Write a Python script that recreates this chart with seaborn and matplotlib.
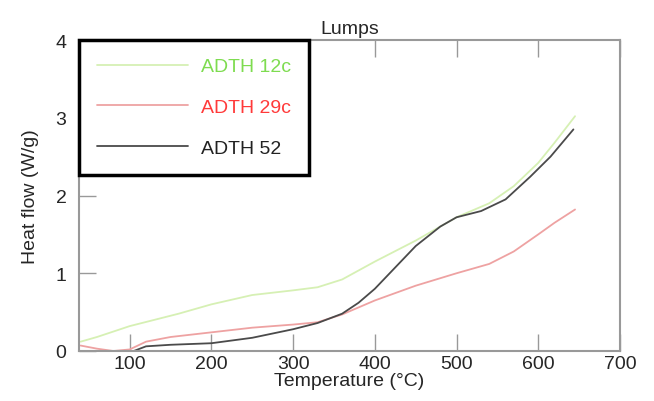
import numpy as np
import pandas as pd
import matplotlib
matplotlib.use("Agg")
import matplotlib.pyplot as plt
import seaborn as sns

series_names = ["ADTH 12c", "ADTH 29c", "ADTH 52"]

x_12c = [40, 60, 80, 100, 130, 160, 200, 250, 300, 330, 360, 400, 450, 500, 540, 570, 600, 620, 645]
y_12c = [0.12, 0.18, 0.25, 0.32, 0.40, 0.48, 0.60, 0.72, 0.78, 0.82, 0.92, 1.15, 1.42, 1.72, 1.90, 2.12, 2.42, 2.68, 3.02]

x_29c = [40, 60, 80, 100, 120, 150, 200, 250, 300, 330, 360, 400, 450, 500, 540, 570, 600, 620, 645]
y_29c = [0.07, 0.03, 0.0, 0.02, 0.12, 0.18, 0.24, 0.30, 0.34, 0.37, 0.47, 0.65, 0.84, 1.00, 1.12, 1.28, 1.50, 1.65, 1.82]

x_52 = [105, 120, 150, 200, 250, 300, 330, 360, 380, 400, 420, 450, 480, 500, 530, 560, 590, 615, 643]
y_52 = [0.0, 0.06, 0.08, 0.10, 0.17, 0.28, 0.36, 0.48, 0.62, 0.80, 1.02, 1.35, 1.60, 1.72, 1.80, 1.95, 2.24, 2.50, 2.85]

x_ticks = [100, 200, 300, 400, 500, 600, 700]
y_ticks = [0, 1, 2, 3, 4]

line_colors = ["#d6f0b4", "#eea2a2", "#4a4a4a"]
text_colors = ["#7edc50", "#ff3a3a", "#222222"]

df = pd.concat([
    pd.DataFrame({"T": x_12c, "H": y_12c, "s": series_names[0]}),
    pd.DataFrame({"T": x_29c, "H": y_29c, "s": series_names[1]}),
    pd.DataFrame({"T": x_52, "H": y_52, "s": series_names[2]}),
])

sns.set_style("white")
plt.rcParams["font.family"] = ["Liberation Sans", "DejaVu Sans"]

fig = plt.figure(figsize=(6.54, 4.02), dpi=100)
ax = fig.add_axes([79/654, 1-352/402, (620-79)/654, (352-41)/402])

sns.lineplot(data=df, x="T", y="H", hue="s", palette=dict(zip(series_names, line_colors)),
             ax=ax, linewidth=1.3, sort=False, legend=False, clip_on=False)

ax.set_xlim(38, 700)
ax.set_ylim(0, 4)
ax.set_xticks(x_ticks)
ax.set_yticks(y_ticks)
ax.set_xticklabels([str(t) for t in x_ticks], fontsize=14)
ax.set_yticklabels([str(t) for t in y_ticks], fontsize=14)
ax.tick_params(axis="x", direction="in", length=12, width=1, color="#999999",
               top=True, bottom=True, pad=3)
ax.tick_params(axis="y", direction="in", length=12, width=1, color="#999999",
               left=True, right=False, pad=9)
for sp in ax.spines.values():
    sp.set_visible(True)
    sp.set_color("#999999")
    sp.set_linewidth(1.5)

ax.set_xlabel("Temperature (°C)", fontsize=14, labelpad=0)
ax.set_ylabel("Heat flow (W/g)", fontsize=14, labelpad=12)
ax.set_title("Lumps", fontsize=14, pad=5)

handles = [plt.Line2D([], [], color=c, lw=1.3) for c in line_colors]
leg = ax.legend(handles, series_names, loc="upper left", bbox_to_anchor=(0, 1),
                borderaxespad=0, fontsize=14, frameon=True, fancybox=False,
                edgecolor="black", framealpha=1, handlelength=4.7, handletextpad=0.65,
                labelspacing=1.18, borderpad=0.92, labelcolor=text_colors)
leg.get_frame().set_linewidth(2.5)

fig.savefig("out.png", dpi=100)
